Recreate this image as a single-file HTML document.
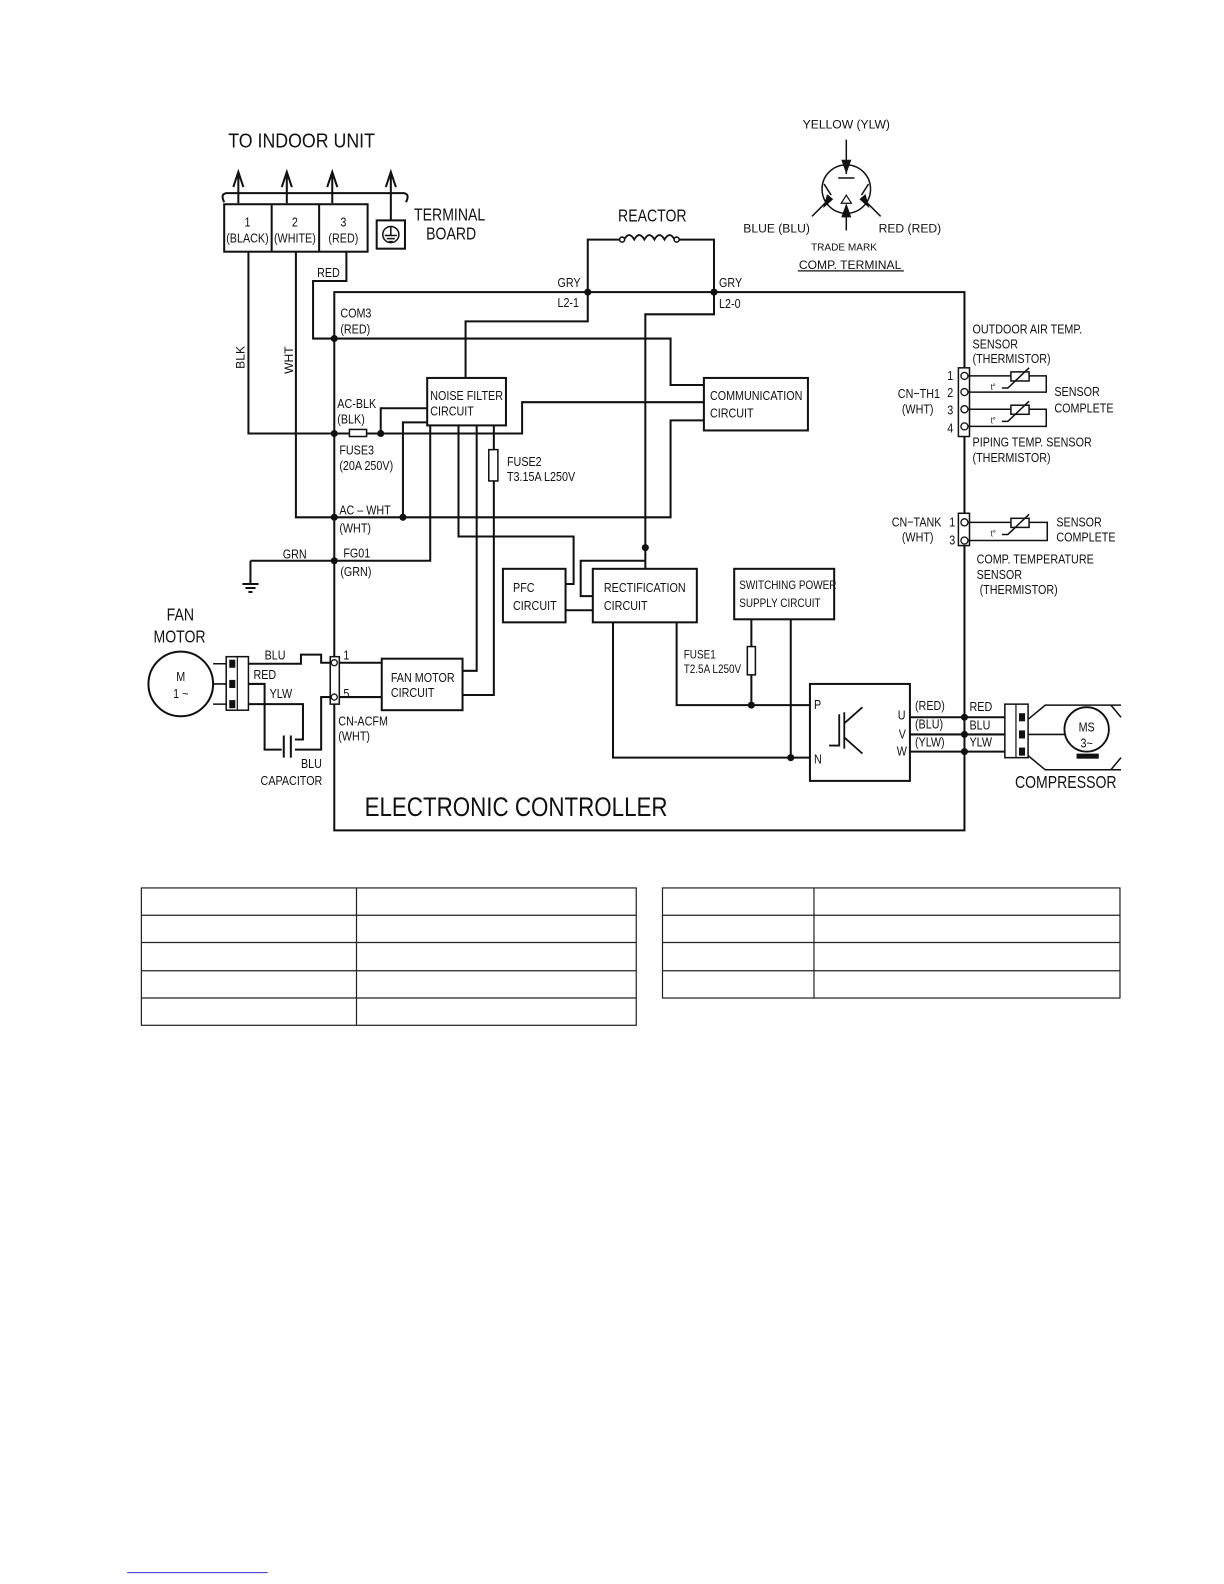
<!DOCTYPE html>
<html><head><meta charset="utf-8"><style>
html,body{margin:0;padding:0;background:#fff;}
svg{display:block;}
text{font-family:"Liberation Sans",sans-serif;fill:#111;transform-box:fill-box;transform-origin:0 50%;transform:scaleX(0.82);}
text.c{transform-origin:50% 50%;}
text.w{transform:scaleX(0.88);}
text.n{transform:none;}
</style></head><body>
<svg width="1224" height="1584" viewBox="0 0 1212 1568" xmlns="http://www.w3.org/2000/svg">
<g stroke="#111" stroke-width="2" fill="none">
<rect x="331" y="289" width="624" height="533"/>
<path d="M222,200 q-4,-8 2,-9 L400,191 q6,1 2,9"/>
<path d="M236,201 L236,172 M231,185 L236,170 L241,185"/>
<path d="M284,201 L284,172 M279,185 L284,170 L289,185"/>
<path d="M329,201 L329,172 M324,185 L329,170 L334,185"/>
<path d="M387,218 L387,172 M382,185 L387,170 L392,185"/>
<rect x="222" y="202" width="142" height="47"/>
<line x1="269" y1="202" x2="269" y2="249"/>
<line x1="316" y1="202" x2="316" y2="249"/>
<rect x="373" y="218" width="28" height="28"/>
<circle cx="387" cy="232" r="8" stroke-width="1.5"/>
<path d="M387,224 L387,233 M381,233 L393,233 M383,236 L391,236 M385,239 L389,239" stroke-width="1.5"/>
<path d="M246,249 L246,429 L517,429 L517,398 L697,398"/>
<path d="M293,249 L293,512 L664,512 L664,416 L697,416"/>
<path d="M343,249 L343,278 L310,278 L310,335 L664,335 L664,381 L697,381"/>
<path d="M582,289 L582,237 L614,237"/>
<path d="M672,237 L707,237 L707,289"/>
<path d="M618,237 q5,-9 10,0 q5,-9 10,0 q5,-9 10,0 q5,-9 10,0 q5,-9 10,0" stroke-width="1.8"/>
<circle cx="616" cy="237" r="2.5" fill="#fff" stroke-width="1.5"/>
<circle cx="670" cy="237" r="2.5" fill="#fff" stroke-width="1.5"/>
<path d="M582,289 L582,318 L461,318 L461,374"/>
<path d="M707,289 L707,311 L639,311 L639,563"/>
<rect x="423" y="374" width="78" height="47"/>
<rect x="697" y="374" width="103" height="52"/>
<rect x="346" y="425" width="17" height="7" fill="#fff" stroke-width="1.5"/>
<path d="M377,429 L377,404 L423,404"/>
<path d="M399,512 L399,418 L423,418"/>
<path d="M248,555 L426,555 L426,421"/>
<path d="M248,555 L248,578 M240,578 L256,578 M243,582 L253,582 M246,586 L250,586"/>
<path d="M454,421 L454,531 L568,531 L568,578 L560,578"/>
<path d="M472,421 L472,664 L458,664"/>
<path d="M489,421 L489,688 L458,688"/>
<rect x="484" y="445" width="9" height="31" fill="#fff" stroke-width="1.5"/>
<path d="M639,555 L575,555 L575,590 L587,590"/>
<path d="M560,604 L587,604"/>
<rect x="498" y="563" width="62" height="53"/>
<rect x="587" y="563" width="103" height="53"/>
<rect x="727" y="563" width="99" height="50"/>
<rect x="378" y="652" width="80" height="51"/>
<rect x="802" y="677" width="99" height="96"/>
<path d="M607,616 L607,750 L802,750"/>
<path d="M670,616 L670,698 L802,698"/>
<path d="M744,613 L744,698"/>
<path d="M783,613 L783,750"/>
<rect x="740" y="640" width="8" height="28" fill="#fff" stroke-width="1.5"/>
<path d="M821,738 L831,738 L831,707 M836,705 L836,741 M836,716 L854,700 M836,730 L854,746" stroke-width="1.8"/>
<path d="M901,710 L995,710 M901,727 L995,727 M901,744 L995,744"/>
<rect x="995" y="697" width="23" height="53" stroke-width="1.5"/>
<line x1="1006" y1="697" x2="1006" y2="750" stroke-width="1.2"/>
<path d="M1018,712 L1035,698 L1110,698 M1018,748 L1035,762 L1110,762 M1100,698 L1110,710 M1100,762 L1110,750" stroke-width="1.5"/>
<path d="M1018,727 L1054,727" stroke-width="1.5"/>
<circle cx="1076" cy="722" r="22" stroke-width="1.8"/>
<circle cx="179" cy="677" r="32"/>
<rect x="224" y="650" width="22" height="53" stroke-width="1.5"/>
<line x1="235" y1="650" x2="235" y2="703" stroke-width="1.2"/>
<path d="M211,657 L224,657 M211,677 L224,677 M211,697 L224,697" stroke-width="1.5"/>
<path d="M246,657 L298,657 L298,648 L318,648 L318,656 L327,656"/>
<path d="M246,677 L262,677 L262,742 L279,742"/>
<path d="M246,697 L300,697 L300,732 L292,732"/>
<path d="M336,690 L318,690 L318,742 L292,742"/>
<path d="M281,728 L281,750 M288,728 L288,750"/>
<rect x="327" y="650" width="9" height="47" fill="#fff" stroke-width="1.5"/>
<path d="M336,656 L378,656 M336,690 L378,690"/>
<rect x="949" y="364" width="11" height="68" fill="#fff" stroke-width="1.5"/>
<path d="M955,372 L1036,372 L1036,388 L955,388 M955,405 L1036,405 L1036,422 L955,422" stroke-width="1.5"/>
<rect x="1001" y="368" width="18" height="9" fill="#fff" stroke-width="1.5"/>
<rect x="1001" y="401" width="18" height="9" fill="#fff" stroke-width="1.5"/>
<path d="M992,384 L998,384 L1019,364 M992,417 L998,417 L1019,397" stroke-width="1.5"/>
<rect x="949" y="508" width="11" height="32" fill="#fff" stroke-width="1.5"/>
<path d="M955,517 L1037,517 L1037,535 L955,535" stroke-width="1.5"/>
<rect x="1001" y="513" width="18" height="9" fill="#fff" stroke-width="1.5"/>
<path d="M992,529 L998,529 L1019,509" stroke-width="1.5"/>
<circle cx="838" cy="187" r="24" stroke-width="1.5"/>
<path d="M838,138 L838,172 M830,176 L846,176 M823,193 L816,182 M853,193 L860,182 M838,205 L838,228" stroke-width="1.5"/>
<path d="M833,201 L838,193 L843,201 Z" stroke-width="1.2"/>
<path d="M804,214 L818,200 M872,214 L858,200" stroke-width="1.5"/>
<line x1="790" y1="268" x2="895" y2="268" stroke-width="1.2"/>
</g>
<g fill="#111">
<path d="M833,158 L838,172 L843,158 Z M815,206 L825,197 L819,192 Z M861,206 L851,197 L857,192 Z M833,215 L838,201 L843,215 Z"/>
<circle cx="331" cy="335" r="3.5"/><circle cx="331" cy="429" r="3.5"/><circle cx="377" cy="429" r="3.5"/>
<circle cx="331" cy="512" r="3.5"/><circle cx="399" cy="512" r="3.5"/><circle cx="331" cy="555" r="3.5"/>
<circle cx="582" cy="289" r="3.5"/><circle cx="707" cy="289" r="3.5"/><circle cx="639" cy="542" r="3.5"/>
<circle cx="744" cy="698" r="3.5"/><circle cx="783" cy="750" r="3.5"/>
<circle cx="955" cy="710" r="3.5"/><circle cx="955" cy="727" r="3.5"/><circle cx="955" cy="744" r="3.5"/>
<rect x="227" y="653" width="6" height="8"/><rect x="227" y="673" width="6" height="8"/><rect x="227" y="693" width="6" height="8"/>
<rect x="1009" y="706" width="6" height="8"/><rect x="1009" y="723" width="6" height="8"/><rect x="1009" y="740" width="6" height="8"/>
<rect x="1066" y="746" width="22" height="5"/>
</g>
<g fill="#fff" stroke="#111" stroke-width="1.3">
<circle cx="331" cy="656" r="3"/><circle cx="331" cy="690" r="3"/>
<circle cx="955" cy="372" r="3.5"/><circle cx="955" cy="388" r="3.5"/><circle cx="955" cy="405" r="3.5"/><circle cx="955" cy="422" r="3.5"/>
<circle cx="955" cy="517" r="3.5"/><circle cx="955" cy="535" r="3.5"/>
</g>
<g font-size="13">
<text class="w" x="226" y="146" font-size="20">TO INDOOR UNIT</text>
<text x="410" y="218" font-size="17">TERMINAL</text>
<text x="422" y="237" font-size="17">BOARD</text>
<text x="612" y="219" font-size="17">REACTOR</text>
<text class="c" x="245" y="224" text-anchor="middle">1</text><text class="c" x="245" y="240" text-anchor="middle">(BLACK)</text>
<text class="c" x="292" y="224" text-anchor="middle">2</text><text class="c" x="292" y="240" text-anchor="middle">(WHITE)</text>
<text class="c" x="340" y="224" text-anchor="middle">3</text><text class="c" x="340" y="240" text-anchor="middle">(RED)</text>
<text x="314" y="274">RED</text>
<g transform="translate(242,365) rotate(-90)"><text class="n" x="0" y="0" font-size="12">BLK</text></g>
<g transform="translate(290,370) rotate(-90)"><text class="n" x="0" y="0" font-size="12">WHT</text></g>
<text x="552" y="284">GRY</text><text x="552" y="304">L2-1</text>
<text x="712" y="284">GRY</text><text x="712" y="305">L2-0</text>
<text x="337" y="314">COM3</text><text x="337" y="330">(RED)</text>
<text x="334" y="404">AC-BLK</text><text x="334" y="419">(BLK)</text>
<text x="336" y="450">FUSE3</text><text x="336" y="465">(20A 250V)</text>
<text x="336" y="509">AC – WHT</text><text x="336" y="527">(WHT)</text>
<text x="280" y="553">GRN</text>
<text x="340" y="552">FG01</text><text x="337" y="570">(GRN)</text>
<text x="426" y="396">NOISE FILTER</text><text x="426" y="411">CIRCUIT</text>
<text x="703" y="396">COMMUNICATION</text><text x="703" y="413">CIRCUIT</text>
<text x="502" y="461">FUSE2</text><text x="502" y="476">T3.15A L250V</text>
<text x="508" y="586">PFC</text><text x="508" y="604">CIRCUIT</text>
<text x="598" y="586">RECTIFICATION</text><text x="598" y="604">CIRCUIT</text>
<text x="732" y="583" font-size="12">SWITCHING POWER</text><text x="732" y="601" font-size="12">SUPPLY CIRCUIT</text>
<text x="387" y="675">FAN MOTOR</text><text x="387" y="690">CIRCUIT</text>
<text x="677" y="652" font-size="12">FUSE1</text><text x="677" y="666" font-size="12">T2.5A  L250V</text>
<text x="340" y="653">1</text><text x="340" y="691">5</text>
<text x="335" y="718">CN-ACFM</text><text x="335" y="733">(WHT)</text>
<text x="165" y="614" font-size="17">FAN</text><text x="152" y="636" font-size="17">MOTOR</text>
<text class="c" x="179" y="674" text-anchor="middle">M</text><text class="c" x="179" y="691" text-anchor="middle">1 ~</text>
<text x="262" y="653">BLU</text><text x="251" y="672">RED</text><text x="267" y="691">YLW</text>
<text x="298" y="760">BLU</text><text x="258" y="777">CAPACITOR</text>
<text x="806" y="702">P</text><text x="806" y="756">N</text>
<text x="889" y="712">U</text><text x="890" y="731">V</text><text x="888" y="748">W</text>
<text x="906" y="703">(RED)</text><text x="906" y="721">(BLU)</text><text x="906" y="739">(YLW)</text>
<text x="960" y="704">RED</text><text x="960" y="722">BLU</text><text x="960" y="739">YLW</text>
<text class="c" x="1076" y="724" text-anchor="middle">MS</text><text class="c" x="1076" y="740" text-anchor="middle">3~</text>
<text x="1005" y="780" font-size="17">COMPRESSOR</text>
<text x="361" y="808" font-size="27">ELECTRONIC CONTROLLER</text>
<text x="963" y="330">OUTDOOR AIR TEMP.</text><text x="963" y="345">SENSOR</text><text x="963" y="359">(THERMISTOR)</text>
<text x="938" y="376">1</text><text x="938" y="393">2</text><text x="938" y="410">3</text><text x="938" y="428">4</text>
<text x="889" y="394">CN−TH1</text><text x="893" y="409">(WHT)</text>
<text x="981" y="386" font-size="9">t°</text><text x="981" y="419" font-size="9">t°</text><text x="981" y="531" font-size="9">t°</text>
<text x="1044" y="392">SENSOR</text><text x="1044" y="408">COMPLETE</text>
<text x="963" y="442">PIPING TEMP. SENSOR</text><text x="963" y="457">(THERMISTOR)</text>
<text x="883" y="521">CN−TANK</text><text x="893" y="536">(WHT)</text>
<text x="940" y="521">1</text><text x="940" y="539">3</text>
<text x="1046" y="521">SENSOR</text><text x="1046" y="536">COMPLETE</text>
<text x="967" y="558">COMP. TEMPERATURE</text><text x="967" y="573">SENSOR</text><text x="970" y="588">(THERMISTOR)</text>
<text class="n" x="838" y="127" text-anchor="middle" font-size="12">YELLOW (YLW)</text>
<text class="n" x="736" y="230" font-size="12">BLUE (BLU)</text>
<text class="n" x="870" y="230" font-size="12">RED (RED)</text>
<text class="n" x="803" y="248" font-size="10">TRADE MARK</text>
<text class="n" x="791" y="266" font-size="12">COMP. TERMINAL</text>
</g>
<g stroke="#222" stroke-width="1.2" fill="none">
<rect x="140" y="879" width="490" height="136"/>
<line x1="353" y1="879" x2="353" y2="1015"/>
<line x1="140" y1="906" x2="630" y2="906"/><line x1="140" y1="933" x2="630" y2="933"/>
<line x1="140" y1="961" x2="630" y2="961"/><line x1="140" y1="988" x2="630" y2="988"/>
<rect x="656" y="879" width="453" height="109"/>
<line x1="806" y1="879" x2="806" y2="988"/>
<line x1="656" y1="906" x2="1109" y2="906"/><line x1="656" y1="933" x2="1109" y2="933"/><line x1="656" y1="961" x2="1109" y2="961"/>
<line x1="126" y1="1557" x2="265" y2="1557" stroke="#33c" stroke-width="1"/>
</g>
</svg>
</body></html>
